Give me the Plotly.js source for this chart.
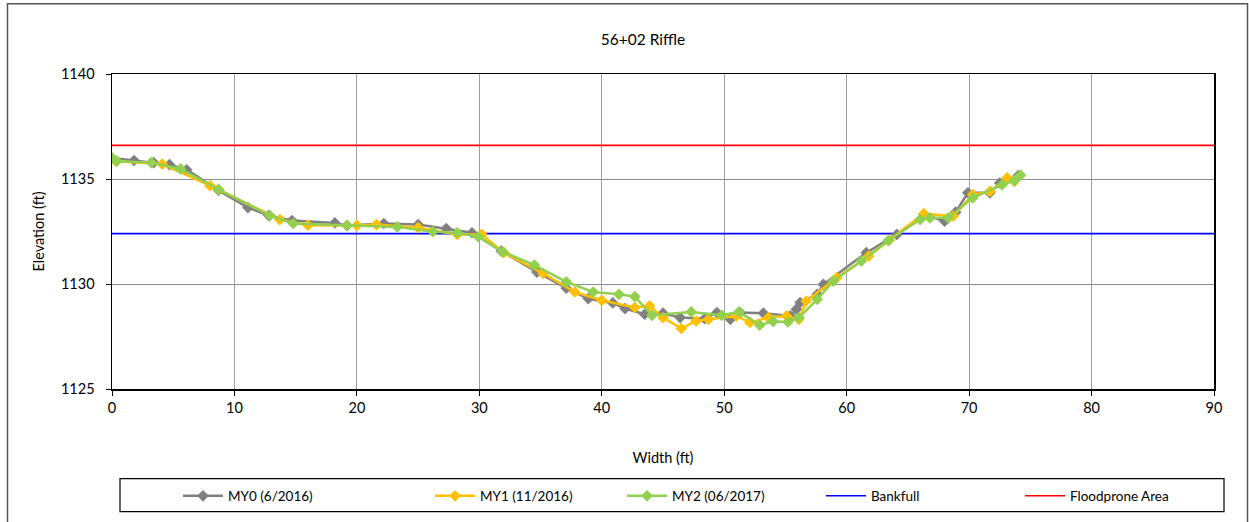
<!DOCTYPE html>
<html>
<head>
<meta charset="utf-8">
<script src="https://cdn.plot.ly/plotly-3.0.1.min.js"></script>
<style>
  html, body { margin: 0; padding: 0; background: #fff; }
  #chart { width: 1249px; height: 522px; }
</style>
</head>
<body>
<div id="chart"></div>
<script>
// Cross-section survey, station 56+02 (riffle): width vs. elevation
const my0Width = [0, 1.8, 3.4, 4.7, 6.1, 8.7, 11.1, 12.8, 14.7, 18.2, 19.2, 22.2, 25.0, 27.3, 29.4,
  31.8, 34.7, 37.1, 38.9, 40.9, 41.9, 43.5, 45.0, 46.4, 48.4, 49.4, 50.5, 51.3, 53.2, 55.4, 55.9,
  56.2, 57.6, 58.1, 61.6, 64.1, 66.3, 68.0, 68.9, 69.9, 71.7, 72.5, 74.0];
const my0Elev = [1136.0, 1135.88, 1135.78, 1135.68, 1135.44, 1134.46, 1133.64, 1133.26, 1133.02, 1132.91,
  1132.78, 1132.88, 1132.83, 1132.64, 1132.44, 1131.57, 1130.57, 1129.8, 1129.3, 1129.1, 1128.83,
  1128.56, 1128.61, 1128.4, 1128.35, 1128.64, 1128.32, 1128.64, 1128.61, 1128.48, 1128.8, 1129.12,
  1129.51, 1129.98, 1131.49, 1132.36, 1133.31, 1132.99, 1133.42, 1134.34, 1134.34, 1134.81, 1135.16];

const my1Width = [0.3, 4.1, 8.0, 8.7, 13.7, 16.0, 20.0, 21.6, 25.0, 28.2, 30.2, 32.0, 35.2, 37.8, 40.0,
  42.7, 43.9, 45.0, 46.5, 47.7, 48.7, 51.0, 52.1, 53.6, 55.1, 56.1, 56.7, 59.2, 61.8, 63.5, 66.3,
  68.7, 70.3, 71.7, 73.1, 73.7];
const my1Elev = [1135.85, 1135.71, 1134.68, 1134.5, 1133.07, 1132.8, 1132.79, 1132.83, 1132.68, 1132.36,
  1132.36, 1131.49, 1130.51, 1129.62, 1129.22, 1128.88, 1128.96, 1128.4, 1127.88, 1128.24, 1128.32,
  1128.48, 1128.17, 1128.4, 1128.48, 1128.32, 1129.19, 1130.3, 1131.33, 1132.1, 1133.35, 1133.23,
  1134.26, 1134.41, 1135.05, 1134.89];

const my2Width = [0, 0.4, 3.2, 5.6, 8.7, 12.9, 14.8, 19.2, 23.3, 26.2, 28.2, 29.9, 31.9, 34.5, 37.1,
  39.3, 41.4, 42.7, 44.1, 47.3, 49.8, 51.2, 52.9, 54.0, 55.2, 56.1, 57.6, 58.9, 61.2, 63.4, 66.0,
  66.8, 68.3, 70.3, 72.7, 73.7, 74.2];
const my2Elev = [1136.0, 1135.85, 1135.78, 1135.48, 1134.5, 1133.26, 1132.88, 1132.79, 1132.72, 1132.49,
  1132.44, 1132.25, 1131.54, 1130.9, 1130.1, 1129.62, 1129.51, 1129.4, 1128.51, 1128.67, 1128.51,
  1128.67, 1128.04, 1128.22, 1128.19, 1128.4, 1129.27, 1130.14, 1131.09, 1132.07, 1133.07, 1133.15,
  1133.15, 1134.1, 1134.73, 1134.92, 1135.18];

const bankfullElev = 1132.4;
const floodproneElev = 1136.6;
const lineSpan = [0, 90];

const FONT = 'Lato, "Open Sans", Arial, sans-serif';

function survey(name, xs, ys, color, legendId) {
  return {
    type: 'scatter', mode: 'lines+markers', name: name, x: xs, y: ys,
    line: { color: color, width: 2.5 },
    marker: { symbol: 'diamond', size: 9, color: color },
    legend: legendId
  };
}
function level(name, elev, color, legendId) {
  return {
    type: 'scatter', mode: 'lines', name: name, x: lineSpan, y: lineSpan.map(() => elev),
    line: { color: color, width: 1.6 }, legend: legendId
  };
}

const traces = [
  level('Bankfull', bankfullElev, '#0000FF', 'legend4'),
  level('Floodprone Area', floodproneElev, '#FF0000', 'legend5'),
  survey('MY0 (6/2016)', my0Width, my0Elev, '#808080', 'legend'),
  survey('MY1 (11/2016)', my1Width, my1Elev, '#FFC000', 'legend2'),
  survey('MY2 (06/2017)', my2Width, my2Elev, '#92D050', 'legend3')
];

const L = 112, PW = 1102, B = 390, PH = 316;
const px = v => (v - L) / PW;
const py = v => (B - v) / PH;

function leg(xpx) {
  return { x: px(xpx), y: py(496), xanchor: 'left', yanchor: 'middle', orientation: 'h',
           itemwidth: 40,
           bgcolor: 'rgba(0,0,0,0)', borderwidth: 0, font: { family: FONT, size: 13.5, color: '#000' } };
}

const layout = {
  width: 1249, height: 522,
  margin: { l: 112, r: 35, t: 74, b: 132 },
  paper_bgcolor: '#fff', plot_bgcolor: '#fff',
  font: { family: FONT, size: 14.5, color: '#000' },
  title: { text: '56+02 Riffle', font: { family: FONT, size: 15.5, color: '#000' },
           x: px(643), xref: 'paper', xanchor: 'center', y: 1 - 40 / 522, yanchor: 'middle' },
  xaxis: {
    range: [0, 90], dtick: 10, tick0: 0,
    showgrid: true, gridcolor: '#a0a0a0', gridwidth: 1,
    showline: true, linecolor: '#000', linewidth: 1.5, mirror: true,
    ticks: 'outside', ticklen: 5, tickcolor: '#000', zeroline: false,
    tickfont: { family: FONT, size: 14.5 },
    title: { text: 'Width (ft)', font: { family: FONT, size: 14.5 }, standoff: 38 }
  },
  yaxis: {
    range: [1125, 1140], dtick: 5, tick0: 1125,
    showgrid: true, gridcolor: '#8c8c8c', gridwidth: 1,
    showline: true, linecolor: '#000', linewidth: 1.5, mirror: true,
    ticks: 'outside', ticklen: 5, tickcolor: '#000', zeroline: false,
    ticklabelstandoff: 8,
    tickfont: { family: FONT, size: 14.5 },
    title: { text: 'Elevation (ft)', font: { family: FONT, size: 14.5 }, standoff: 13 }
  },
  showlegend: true,
  legend: leg(178), legend2: leg(430), legend3: leg(622), legend4: leg(821), legend5: leg(1020),
  shapes: [
    // outer chart frame
    { type: 'rect', xref: 'paper', yref: 'paper', x0: px(7.5), x1: px(1247.5), y0: py(530), y1: py(3.5),
      line: { color: '#555', width: 1.5 }, fillcolor: 'rgba(0,0,0,0)', layer: 'below' },
    // legend frame
    { type: 'rect', xref: 'paper', yref: 'paper', x0: px(120), x1: px(1224), y0: py(513), y1: py(480),
      line: { color: '#000', width: 1.2 }, fillcolor: 'rgba(0,0,0,0)', layer: 'below' }
  ]
};

Plotly.newPlot('chart', traces, layout, { displayModeBar: false, staticPlot: true });
</script>
</body>
</html>
